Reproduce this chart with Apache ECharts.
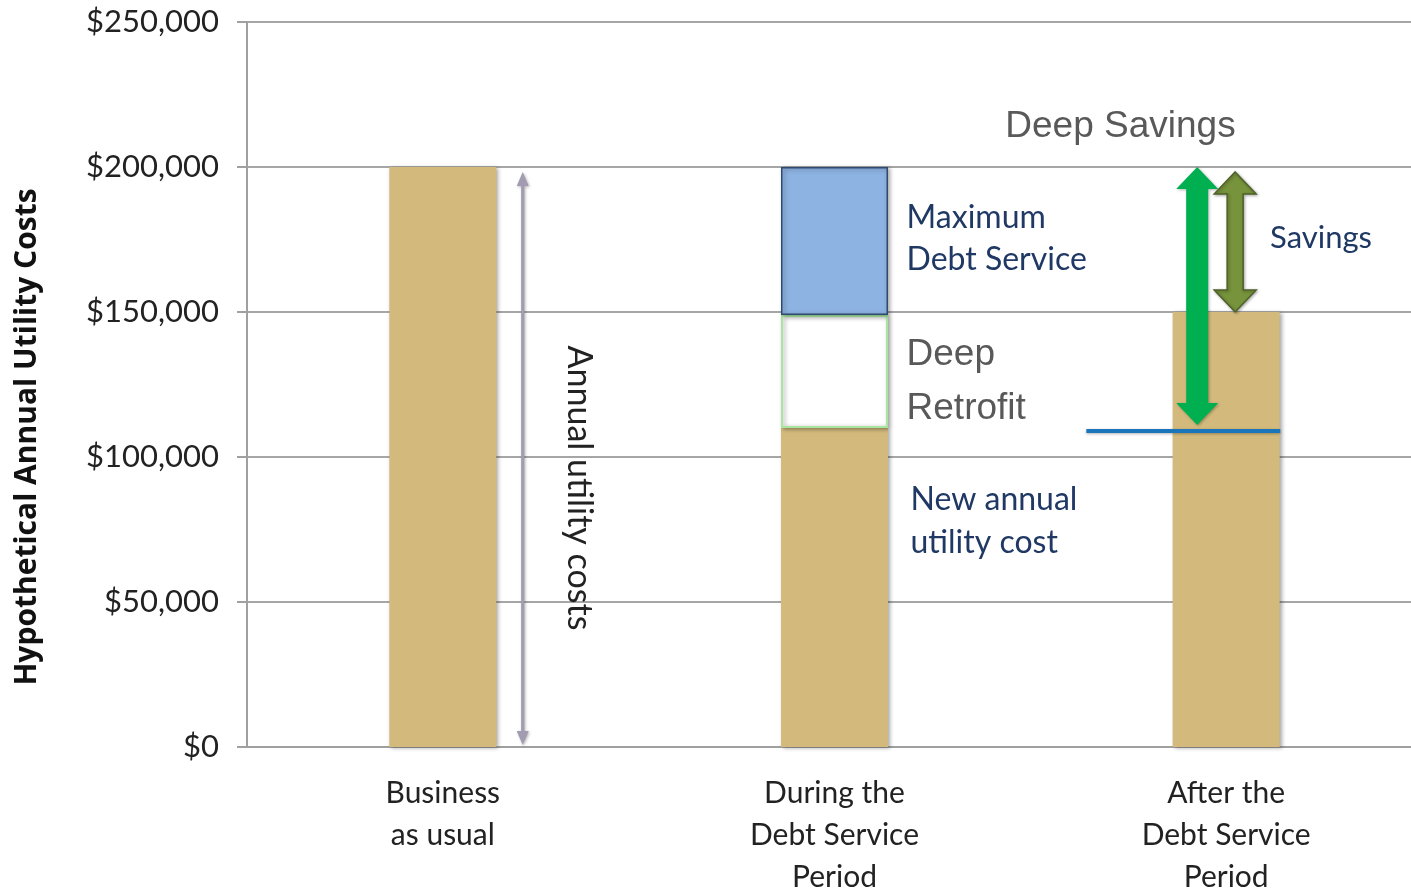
<!DOCTYPE html>
<html>
<head>
<meta charset="utf-8">
<script src="https://cdn.jsdelivr.net/npm/echarts@6/dist/echarts.min.js"></script>
<style>
html,body{margin:0;padding:0;background:#fff;}
#chart{width:1411px;height:890px;}
</style>
</head>
<body>
<div id="chart"></div>
<script>
// ---- data ----
const categories = ['Business\nas usual', 'During the\nDebt Service\nPeriod', 'After the\nDebt Service\nPeriod'];
const utilityCost = [200000, 110000, 150000];
const deepRetrofit = [null, 39000, null];
const debtService = [null, 51000, null];
const yTicks = [0, 50000, 100000, 150000, 200000, 250000];
const newCostLevel = 109000;
// arrows: [x (category units), fromValue, toValue]
const annualArrow = [0.704, 700, 198300];
const deepSavingsArrow = [2.426, 200000, 111000];
const savingsArrow = [2.523, 198300, 150000];
const newCostLine = [2.143, 2.638, newCostLevel];
const yAxisTitle = 'Hypothetical Annual Utility Costs';
const annotationTexts = ['Annual utility costs', 'Maximum\nDebt Service', 'Deep\nRetrofit', 'New annual\nutility cost', 'Deep Savings', 'Savings'];

const calibri = 'Lato, "Open Sans", sans-serif';
const arial = '"Liberation Sans", Arial, sans-serif';
const navy = '#1F3864';
const grayTxt = '#595959';

const annotationLayout = [
  {x: 0.847, y: 89310, font: calibri, size: 34, color: '#222', align: 'center', rot: -Math.PI / 2, lh: 36},
  {x: 1.684, y: 175172, font: calibri, size: 32, color: navy, align: 'left', rot: 0, lh: 42},
  {x: 1.684, y: 125862, font: arial, size: 37, color: grayTxt, align: 'left', rot: 0, lh: 54},
  {x: 1.694, y: 77931, font: calibri, size: 32, color: navy, align: 'left', rot: 0, lh: 43},
  {x: 1.936, y: 213793, font: arial, size: 37, color: grayTxt, align: 'left', rot: 0, lh: 40},
  {x: 2.612, y: 175517, font: calibri, size: 31, color: navy, align: 'left', rot: 0, lh: 40}
];

const arrowStyles = [
  {s: 1.6, h: 6, L: 14, fill: '#A39BB2', stroke: null},
  {s: 11, h: 21, L: 22, fill: '#00B050', stroke: null},
  {s: 8, h: 21, L: 22, fill: '#77933C', stroke: '#4F6228'}
];

function arrowPoints(x, yTop, yBot, st) {
  const {s, h, L} = st;
  return [[x, yTop], [x + h, yTop + L], [x + s, yTop + L], [x + s, yBot - L], [x + h, yBot - L], [x, yBot],
          [x - h, yBot - L], [x - s, yBot - L], [x - s, yTop + L], [x - h, yTop + L]];
}

const chart = echarts.init(document.getElementById('chart'), null, {renderer: 'canvas'});

const shadow = {shadowBlur: 4, shadowColor: 'rgba(0,0,0,0.35)', shadowOffsetX: 2, shadowOffsetY: 1};

chart.setOption({
  animation: false,
  backgroundColor: '#fff',
  grid: {left: 247, right: -11, top: 22, bottom: 143, containLabel: false, outerBoundsMode: 'none'},
  graphic: [{
    type: 'text', x: 27, y: 437, rotation: Math.PI / 2,
    style: {text: yAxisTitle, font: 'bold 30px "Open Sans", Lato, sans-serif', fill: '#111',
      align: 'center', verticalAlign: 'middle'}
  }],
  xAxis: [
    {
      type: 'category', data: categories,
      axisLine: {lineStyle: {color: '#A0A0A0', width: 2}},
      axisTick: {show: false},
      axisLabel: {margin: 25, fontFamily: calibri, fontSize: 30, color: '#222', lineHeight: 42, interval: 0}
    },
    {type: 'value', min: 0, max: 3, show: false}
  ],
  yAxis: {
    type: 'value', min: 0, max: 250000, interval: 50000,
    axisLine: {show: true, lineStyle: {color: '#A0A0A0', width: 2}},
    axisTick: {show: true, length: 10, lineStyle: {color: '#A0A0A0', width: 2}},
    splitLine: {lineStyle: {color: '#A6A6A6', width: 2}},
    axisLabel: {
      margin: 28, fontFamily: calibri, fontSize: 31, color: '#222',
      formatter: v => '$' + v.toLocaleString('en-US')
    }
  },
  series: [
    {
      type: 'bar', stack: 'c', data: utilityCost, barWidth: 107,
      itemStyle: Object.assign({color: '#D3BA7C'}, shadow)
    },
    {
      type: 'bar', stack: 'c', data: deepRetrofit, barWidth: 107,
      itemStyle: Object.assign({color: '#FFFFFF', borderColor: '#A8E6A0', borderWidth: 2}, shadow)
    },
    {
      type: 'bar', stack: 'c', data: debtService, barWidth: 107,
      itemStyle: Object.assign({color: '#8DB3E2', borderColor: '#2F4A70', borderWidth: 1.5}, shadow)
    },
    {
      type: 'custom', xAxisIndex: 1, z: 5,
      data: [newCostLine],
      renderItem: (params, api) => {
        const a = api.coord([api.value(0), api.value(2)]);
        const b = api.coord([api.value(1), api.value(2)]);
        return {type: 'line', shape: {x1: a[0], y1: a[1], x2: b[0], y2: b[1]},
          style: {stroke: '#1B75BB', lineWidth: 4, shadowBlur: 3, shadowColor: 'rgba(0,0,0,0.3)', shadowOffsetY: 1}};
      }
    },
    {
      type: 'custom', xAxisIndex: 1, z: 6,
      data: [annualArrow, deepSavingsArrow, savingsArrow],
      renderItem: (params, api) => {
        const st = arrowStyles[params.dataIndex];
        const p1 = api.coord([api.value(0), api.value(1)]);
        const p2 = api.coord([api.value(0), api.value(2)]);
        const yTop = Math.min(p1[1], p2[1]), yBot = Math.max(p1[1], p2[1]);
        return {type: 'polygon', shape: {points: arrowPoints(p1[0], yTop, yBot, st)},
          style: {fill: st.fill, stroke: st.stroke || null, lineWidth: st.stroke ? 1.5 : 0,
            shadowBlur: 3, shadowColor: 'rgba(0,0,0,0.3)', shadowOffsetX: 1, shadowOffsetY: 1}};
      }
    },
    {
      type: 'custom', xAxisIndex: 1, z: 7,
      data: annotationTexts.map((t, i) => [annotationLayout[i].x, annotationLayout[i].y, i]),
      renderItem: (params, api) => {
        const i = api.value(2);
        const L = annotationLayout[i];
        const p = api.coord([api.value(0), api.value(1)]);
        return {type: 'text', x: p[0], y: p[1], rotation: L.rot,
          style: {text: annotationTexts[i], fill: L.color, font: L.size + 'px ' + L.font,
            align: L.align, verticalAlign: 'middle', lineHeight: L.lh}};
      }
    }
  ]
});
</script>
</body>
</html>
